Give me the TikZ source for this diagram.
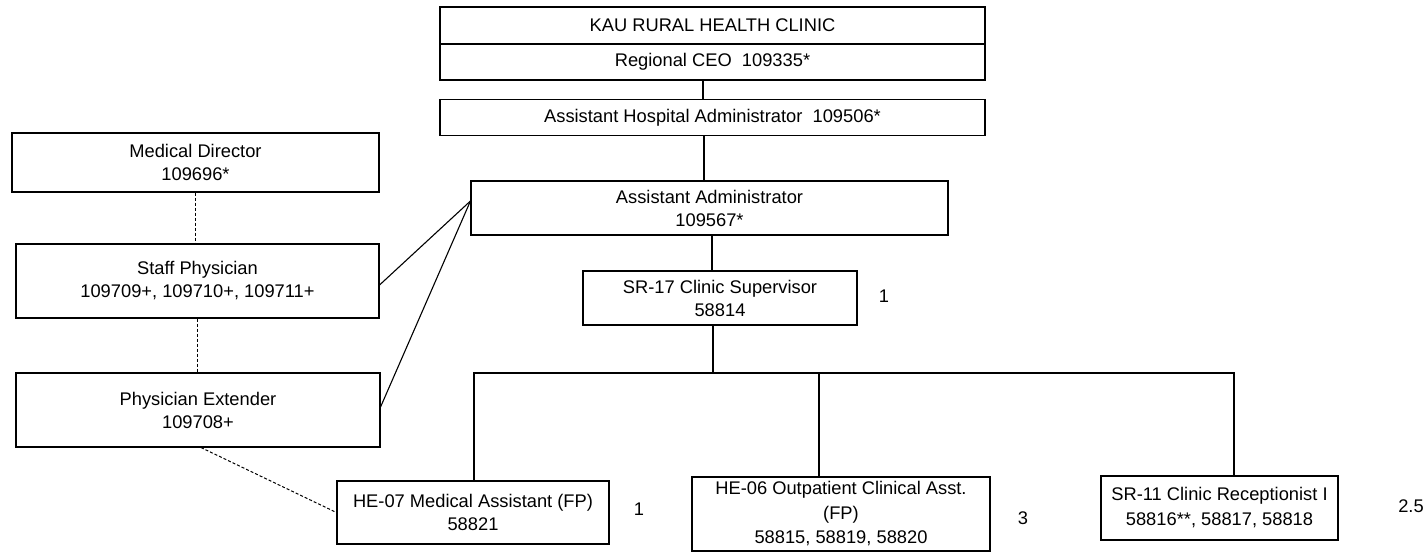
\documentclass[tikz,border=0pt]{standalone}
\usepackage{fontspec}
\setmainfont{Liberation Sans}
\begin{document}
\begin{tikzpicture}[x=1pt,y=-1pt,
  box/.style={draw, line width=1.1pt, inner sep=0pt, align=center,
    font=\fontsize{18.3}{23}\selectfont},
  link/.style={line width=1.1pt},
  dlink/.style={line width=1.0pt, dash pattern=on 3pt off 2pt},
  fte/.style={inner sep=0pt, font=\fontsize{18.3}{22}\selectfont}]
\useasboundingbox (0,0) rectangle (1424,553);
% boxes
\node[box, minimum width=545pt, minimum height=37pt] (kau) at (712.5,25.5) {KAU RURAL HEALTH CLINIC};
\node[box, minimum width=545pt, minimum height=36pt] (ceo) at (712.5,62) {Regional CEO\ \ 109335*};
\node[box, minimum width=545pt, minimum height=36pt] (aha) at (712.5,117.5) {Assistant Hospital Administrator\ \ 109506*};
\node[box, minimum width=477pt, minimum height=54pt] (aa) at (709.5,208) {Assistant Administrator\\109567*};
\node[box, minimum width=367pt, minimum height=59pt] (md) at (195.5,162.5) {Medical Director\\109696*};
\node[box, minimum width=363pt, minimum height=74pt] (sp) at (197.5,281) {Staff Physician\\109709+, 109710+, 109711+};
\node[box, minimum width=364pt, minimum height=74pt] (pe) at (198,410) {Physician Extender\\109708+};
\node[box, minimum width=274pt, minimum height=54pt] (sr17) at (720,298) {SR-17 Clinic Supervisor\\58814};
\node[box, minimum width=272pt, minimum height=63pt] (he07) at (473,512.5) {HE-07 Medical Assistant (FP)\\58821};
\node[box, minimum width=298pt, minimum height=74pt, font=\fontsize{18.3}{24.5}\selectfont] (he06) at (841,514) {HE-06 Outpatient Clinical Asst.\\(FP)\\58815, 58819, 58820};
\node[box, minimum width=237pt, minimum height=64pt, font=\fontsize{18.3}{25}\selectfont] (sr11) at (1219.5,508) {SR-11 Clinic Receptionist I\\58816**, 58817, 58818};
% FTE counts
\node[fte] (n1) at (884,296) {1};
\node[fte] (n2) at (639,509) {1};
\node[fte] (n3) at (1023,518) {3};
\node[fte] (n4) at (1411,506) {2.5};
% helper coordinates
\coordinate (x1) at (703,0);
\coordinate (x2) at (704,0);
\coordinate (x3) at (712,0);
\coordinate (busL) at (474,373);
\coordinate (busS) at (713,373);
\coordinate (busM) at (819,373);
\coordinate (busR) at (1234,373);
% solid connectors
\draw[link] (ceo.south -| x1) -- (aha.north -| x1);
\draw[link] (aha.south -| x2) -- (aa.north -| x2);
\draw[link] (aa.south -| x3) -- (sr17.north -| x3);
\draw[link] (sr17.south -| busS) -- (busS);
\draw[link] (he07.north -| busL) -- (busL) -- (busR) -- (sr11.north -| busR);
\draw[link] (busM) -- (he06.north -| busM);
\draw[link] ([yshift=7pt]aa.west) -- ([yshift=-4pt]sp.east);
\draw[link] ([yshift=7pt]aa.west) -- ([yshift=3pt]pe.east);
% dashed connectors
\draw[dlink] (md.south) -- (md.south |- sp.north);
\draw[dlink] (sp.south) -- (sp.south |- pe.north);
\draw[dlink] ([xshift=3pt]pe.south) -- (he07.west);
\end{tikzpicture}
\end{document}
